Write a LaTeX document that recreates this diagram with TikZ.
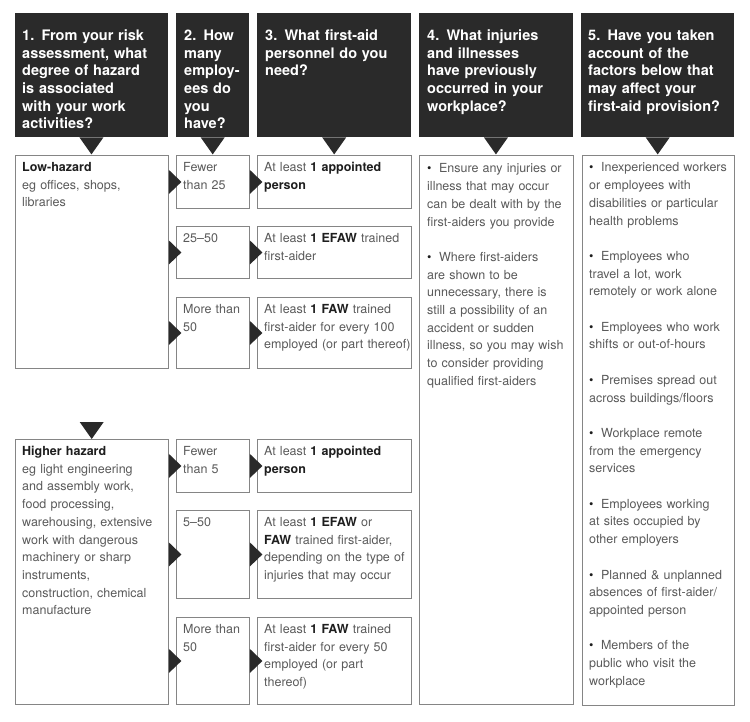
\documentclass[tikz,border=0pt]{standalone}
\usepackage{fontspec}
\setmainfont{TeX Gyre Heros}
\definecolor{hdrfill}{HTML}{2A2A2A}
\definecolor{rulegray}{HTML}{858585}
\definecolor{txtgray}{HTML}{5A5A5A}
\definecolor{boldgray}{HTML}{1E1E1E}
\newcommand{\bld}[1]{{\color{boldgray}\bfseries #1}}
\newcommand{\bul}{{\color{boldgray}\textbullet}\hspace{0.6em}}
\tikzset{
  hdr/.style={fill=hdrfill, anchor=north west, inner sep=0pt},
  cell/.style={draw=rulegray, line width=0.9pt, anchor=north west, inner sep=0pt},
  hdrtxt/.style={anchor=base west, inner sep=0pt, text=white, align=left,
    font=\fontsize{14.5}{17.7}\selectfont\bfseries, text width=#1},
  celltxt/.style={anchor=base west, inner sep=0pt, text=txtgray, align=left,
    font=\fontsize{12.5}{17.7}\selectfont, text width=#1},
  ptr/.style={fill=hdrfill}
}
\begin{document}
\begin{tikzpicture}[x=1pt,y=-1pt]
\fill[white] (0,0) rectangle (750,722);
\useasboundingbox (0,0) rectangle (750,722);

% question headers
\node[hdr, minimum width=153.5pt, minimum height=124pt] (h1) at (14.5,13) {};
\node[hdr, minimum width=73pt, minimum height=124pt] (h2) at (176,13) {};
\node[hdr, minimum width=154pt, minimum height=124pt] (h3) at (257,13) {};
\node[hdr, minimum width=153.5pt, minimum height=124pt] (h4) at (419,13) {};
\node[hdr, minimum width=153pt, minimum height=124pt] (h5) at (581,13) {};

\node[hdrtxt=160pt] (h1t) at ([shift={(7.5,27.5)}]h1.north west)
  {1. From your risk\\assessment, what\\degree of hazard\\is associated\\with your work\\activities?};
\node[hdrtxt=80pt] (h2t) at ([shift={(8,27.5)}]h2.north west)
  {2. How\\many\\employ-\\ees do\\you\\have?};
\node[hdrtxt=160pt] (h3t) at ([shift={(8,27.5)}]h3.north west)
  {3. What first-aid\\personnel do you\\need?};
\node[hdrtxt=160pt] (h4t) at ([shift={(8,27.5)}]h4.north west)
  {4. What injuries\\and illnesses\\have previously\\occurred in your\\workplace?};
\node[hdrtxt=160pt] (h5t) at ([shift={(7,27.5)}]h5.north west)
  {5. Have you taken\\account of the\\factors below that\\may affect your\\first-aid provision?};

% low hazard rows
\node[cell, minimum width=153.5pt, minimum height=213pt] (low) at (14.5,155) {};
\node[cell, minimum width=73pt, minimum height=53pt] (f1) at (176,155) {};
\node[cell, minimum width=73pt, minimum height=52pt] (f2) at (176,226) {};
\node[cell, minimum width=73pt, minimum height=71pt] (f3) at (176,297) {};
\node[cell, minimum width=154pt, minimum height=53pt] (p1) at (257,155) {};
\node[cell, minimum width=154pt, minimum height=52pt] (p2) at (257,226) {};
\node[cell, minimum width=154pt, minimum height=71pt] (p3) at (257,297) {};

% higher hazard rows
\node[cell, minimum width=153.5pt, minimum height=265pt] (high) at (14.5,439) {};
\node[cell, minimum width=73pt, minimum height=53pt] (g1) at (176,439) {};
\node[cell, minimum width=73pt, minimum height=88pt] (g2) at (176,510) {};
\node[cell, minimum width=73pt, minimum height=87pt] (g3) at (176,617) {};
\node[cell, minimum width=154pt, minimum height=53pt] (q1) at (257,439) {};
\node[cell, minimum width=154pt, minimum height=88pt] (q2) at (257,510) {};
\node[cell, minimum width=154pt, minimum height=87pt] (q3) at (257,617) {};

% right columns
\node[cell, minimum width=153.5pt, minimum height=549pt] (inj) at (419,155) {};
\node[cell, minimum width=152.5pt, minimum height=550pt] (fac) at (581.5,155) {};

\node[celltxt=170pt] (lowt) at ([shift={(7.5,16.5)}]low.north west)
  {\bld{Low-hazard}\\eg offices, shops,\\libraries};
\node[celltxt=80pt] (f1t) at ([shift={(7,16.5)}]f1.north west) {Fewer\\than 25};
\node[celltxt=80pt] (f2t) at ([shift={(7,16.5)}]f2.north west) {25–50};
\node[celltxt=80pt] (f3t) at ([shift={(7,16.5)}]f3.north west) {More than\\50};
\node[celltxt=170pt] (p1t) at ([shift={(7,16.5)}]p1.north west)
  {At least \bld{1 appointed}\\\bld{person}};
\node[celltxt=170pt] (p2t) at ([shift={(7,16.5)}]p2.north west)
  {At least \bld{1 EFAW} trained\\first-aider};
\node[celltxt=170pt] (p3t) at ([shift={(7,16.5)}]p3.north west)
  {At least \bld{1 FAW} trained\\first-aider for every 100\\employed (or part thereof)};

\node[celltxt=170pt] (hight) at ([shift={(7.5,16.5)}]high.north west)
  {\bld{Higher hazard}\\eg light engineering\\and assembly work,\\food processing,\\warehousing, extensive\\work with dangerous\\machinery or sharp\\instruments,\\construction, chemical\\manufacture};
\node[celltxt=80pt] (g1t) at ([shift={(7,16.5)}]g1.north west) {Fewer\\than 5};
\node[celltxt=80pt] (g2t) at ([shift={(7,16.5)}]g2.north west) {5–50};
\node[celltxt=80pt] (g3t) at ([shift={(7,16.5)}]g3.north west) {More than\\50};
\node[celltxt=170pt] (q1t) at ([shift={(7,16.5)}]q1.north west)
  {At least \bld{1 appointed}\\\bld{person}};
\node[celltxt=170pt] (q2t) at ([shift={(7,16.5)}]q2.north west)
  {At least \bld{1 EFAW} or\\\bld{FAW} trained first-aider,\\depending on the type of\\injuries that may occur};
\node[celltxt=170pt] (q3t) at ([shift={(7,16.5)}]q3.north west)
  {At least \bld{1 FAW} trained\\first-aider for every 50\\employed (or part\\thereof)};

\node[celltxt=170pt] (injt) at ([shift={(8,18)}]inj.north west)
  {\bul Ensure any injuries or\\illness that may occur\\can be dealt with by the\\first-aiders you provide\\[17.7pt]
   \bul Where first-aiders\\are shown to be\\unnecessary, there is\\still a possibility of an\\accident or sudden\\illness, so you may wish\\to consider providing\\qualified first-aiders};
\node[celltxt=170pt] (fact) at ([shift={(7.5,17)}]fac.north west)
  {\bul Inexperienced workers\\or employees with\\disabilities or particular\\health problems\\[17.7pt]
   \bul Employees who\\travel a lot, work\\remotely or work alone\\[17.7pt]
   \bul Employees who work\\shifts or out-of-hours\\[17.7pt]
   \bul Premises spread out\\across buildings/floors\\[17.7pt]
   \bul Workplace remote\\from the emergency\\services\\[17.7pt]
   \bul Employees working\\at sites occupied by\\other employers\\[17.7pt]
   \bul Planned \& unplanned\\absences of first-aider/\\appointed person\\[17.7pt]
   \bul Members of the\\public who visit the\\workplace};

% pointers
\foreach \h in {h1,h2,h3,h4,h5}{
\fill[ptr] (\h.south) ++(-12,0) -- ++(24,0) -- ++(-12,17) -- cycle;
}
\fill[ptr] (high.north) ++(-12,-17) -- ++(24,0) -- ++(-12,17) -- cycle;
\foreach \a/\b in {low/f1,low/f2,low/f3,f1/p1,f2/p2,f3/p3,high/g1,high/g2,high/g3,g1/q1,g2/q2,g3/q3}{
\fill[ptr] (\a.east |- \b.west) ++(0,-12) -- ++(12.5,12) -- ++(-12.5,12) -- cycle;
}
\end{tikzpicture}
\end{document}
